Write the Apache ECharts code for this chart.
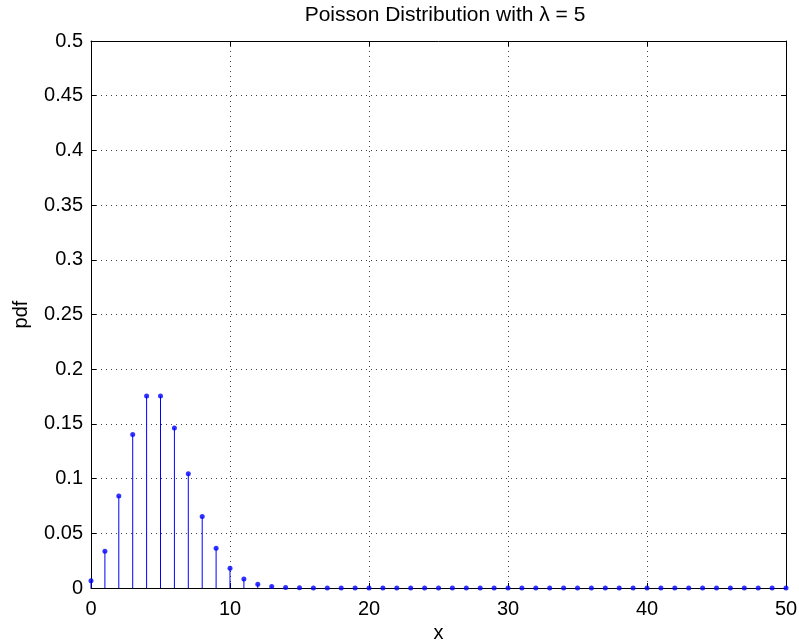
<!DOCTYPE html>
<html>
<head>
<meta charset="utf-8">
<script src="https://cdn.jsdelivr.net/npm/echarts@6/dist/echarts.min.js"></script>
<style>html,body{margin:0;padding:0;background:#fff;}#c{width:799px;height:642px;}</style>
</head>
<body>
<div id="c"></div>
<script>
var xValues = [0,1,2,3,4,5,6,7,8,9,10,11,12,13,14,15,16,17,18,19,20,21,22,23,24,25,26,27,28,29,30,31,32,33,34,35,36,37,38,39,40,41,42,43,44,45,46,47,48,49,50];
var pdfValues = [0.0067,0.0337,0.0842,0.1404,0.1755,0.1755,0.1462,0.1044,0.0653,0.0363,0.0181,0.0082,0.0034,0.0013,0.0005,0.0002,0.0000,0.0000,0,0,0,0,0,0,0,0,0,0,0,0,0,0,0,0,0,0,0,0,0,0,0,0,0,0,0,0,0,0,0,0,0];
var titleText = 'Poisson Distribution with \u03bb = 5';
var xName = 'x';
var yName = 'pdf';

var pts = xValues.map(function(x, i){ return [x, pdfValues[i]]; });
var font = 'Liberation Sans, Arial, Helvetica, sans-serif';
var fs = 20;
var chart = echarts.init(document.getElementById('c'));
var gridLine = {show:true, lineStyle:{color:'#000', type:[1,4], width:1, opacity:0.75}};
chart.setOption({
  animation:false,
  backgroundColor:'#fff',
  title:{text:titleText, left:440, top:0, textAlign:'center',
    textStyle:{fontFamily:font, fontSize:21, fontWeight:'normal', color:'#000'}},
  grid:{left:91, top:41, right:13, bottom:54, containLabel:false, outerBoundsMode:'none'},
  xAxis:[{
    type:'value', min:0, max:50, interval:10, position:'bottom',
    name:xName, nameLocation:'middle', nameGap:34,
    nameTextStyle:{fontFamily:font, fontSize:fs, color:'#000'},
    axisLine:{show:true, onZero:false, lineStyle:{color:'#000', width:1}},
    axisTick:{show:true, inside:true, length:5, lineStyle:{color:'#000'}},
    axisLabel:{fontFamily:font, fontSize:fs, color:'#000', margin:11},
    splitLine:gridLine
  },{
    type:'value', min:0, max:50, interval:10, position:'top',
    axisLine:{show:true, onZero:false, lineStyle:{color:'#000', width:1}},
    axisTick:{show:true, inside:true, length:5, lineStyle:{color:'#000'}},
    axisLabel:{show:false}, splitLine:{show:false}
  }],
  yAxis:[{
    type:'value', min:0, max:0.5, interval:0.05, position:'left',
    name:yName, nameLocation:'middle', nameGap:60, nameRotate:90,
    nameTextStyle:{fontFamily:font, fontSize:fs, color:'#000'},
    axisLine:{show:true, onZero:false, lineStyle:{color:'#000', width:1}},
    axisTick:{show:true, inside:true, length:5, lineStyle:{color:'#000'}},
    axisLabel:{fontFamily:font, fontSize:fs, color:'#000', margin:8},
    splitLine:gridLine
  },{
    type:'value', min:0, max:0.5, interval:0.05, position:'right',
    axisLine:{show:true, onZero:false, lineStyle:{color:'#000', width:1}},
    axisTick:{show:true, inside:true, length:5, lineStyle:{color:'#000'}},
    axisLabel:{show:false}, splitLine:{show:false}
  }],
  series:[{
    type:'bar', data:pts, barWidth:1, itemStyle:{color:'#0000ff'}, silent:true, z:3
  },{
    type:'scatter', data:pts, symbol:'circle', symbolSize:5,
    itemStyle:{color:'#0000ff'}, silent:true, z:4
  }]
});
</script>
</body>
</html>
